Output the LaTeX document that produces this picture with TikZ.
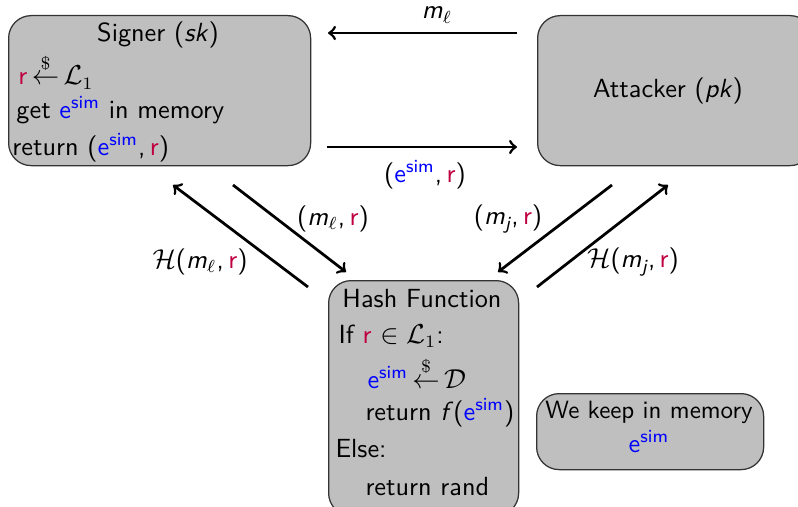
\documentclass[tikz,border=0pt]{standalone}
\usepackage{amsmath,amssymb}
\usepackage{xcolor}
\definecolor{rcol}{rgb}{0.75,0,0.25}
\newcommand{\rv}{\textcolor{rcol}{r}}
\newcommand{\esim}{\textcolor{blue}{e\textsuperscript{sim}}}
\newcommand{\samp}{\ensuremath{\stackrel{\$}{\leftarrow}}}
\newcommand{\mv}[1]{\textit{#1}}
\newcommand{\cm}{,\,}
\begin{document}
\begin{tikzpicture}[x=0.4pt,y=-0.4pt,
  font=\sffamily\fontsize{10.5}{12.5}\selectfont,
  box/.style={draw=black!80, fill=black!25, rounded corners=9pt, line width=0.5pt,
    anchor=north west, inner sep=0pt},
  txt/.style={anchor=base west, inner sep=0pt},
  ctxt/.style={anchor=base, inner sep=0pt},
  msg/.style={->, line width=1.1pt},
  lbl/.style={inner sep=0pt}]
\useasboundingbox (0,0) rectangle (798,506);

% boxes
\node[box, minimum width=120.8pt, minimum height=60pt] (signer) at (8,15) {};
\node[box, minimum width=110pt, minimum height=60pt] (attacker) at (537,15) {};
\node[box, minimum width=76pt, minimum height=94pt] (hash) at (328,280) {};
\node[box, minimum width=90.8pt, minimum height=30.4pt] (mem) at (536,393) {};

% signer contents
\node[ctxt] (s0) at (158,42) {Signer (\mv{sk})};
\node[txt] (s1) at (18,85) {\rv\,\samp\,$\mathcal{L}_1$};
\node[txt] (s2) at (16,118) {get \esim\ in memory};
\node[txt] (s3) at (12,155) {return (\esim\cm\rv)};

% attacker contents
\node[ctxt] (a0) at (668,98) {Attacker (\mv{pk})};

% hash contents
\node[ctxt] (h0) at (422,307) {Hash Function};
\node[txt] (h1) at (338,343) {If \rv\ $\in\mathcal{L}_1$:};
\node[txt] (h2) at (367,388) {\esim\,\samp\,$\mathcal{D}$};
\node[txt] (h3) at (365,420) {return \mv{f}(\esim)};
\node[txt] (h4) at (335,457) {Else:};
\node[txt] (h5) at (365,495) {return rand};

% memory contents
\node[ctxt, font=\sffamily\fontsize{10}{12}\selectfont] (m0) at (649,418) {We keep in memory};
\node[ctxt] (m1) at (649,452) {\esim};

% arrow end points
\coordinate (p1) at (517,33);  \coordinate (p2) at (328,33);
\coordinate (p3) at (327,147); \coordinate (p4) at (517,147);
\coordinate (p5) at (308,287); \coordinate (p6) at (173,185);
\coordinate (p7) at (233,185); \coordinate (p8) at (346,272);
\coordinate (p9) at (612,185); \coordinate (p10) at (498,272);
\coordinate (p11) at (537,287); \coordinate (p12) at (668,185);

\draw[msg] (p1) -- (p2);
\draw[msg] (p3) -- (p4);
\draw[msg] (p5) -- (p6);
\draw[msg] (p7) -- (p8);
\draw[msg] (p9) -- (p10);
\draw[msg] (p11) -- (p12);

% labels
\node[lbl] (l1) at (437,15) {\mv{m}$_\ell$};
\node[lbl] (l2) at (425,175) {(\esim\cm\rv)};
\node[lbl] (l3) at (333,219) {(\mv{m}$_\ell$\cm\rv)};
\node[lbl] (l4) at (200,262) {$\mathcal{H}$(\mv{m}$_\ell$\cm\rv)};
\node[lbl] (l5) at (508,219) {(\mv{m}$_{\textit{j}}$\cm\rv)};
\node[lbl] (l6) at (633,262) {$\mathcal{H}$(\mv{m}$_{\textit{j}}$\cm\rv)};
\end{tikzpicture}
\end{document}
